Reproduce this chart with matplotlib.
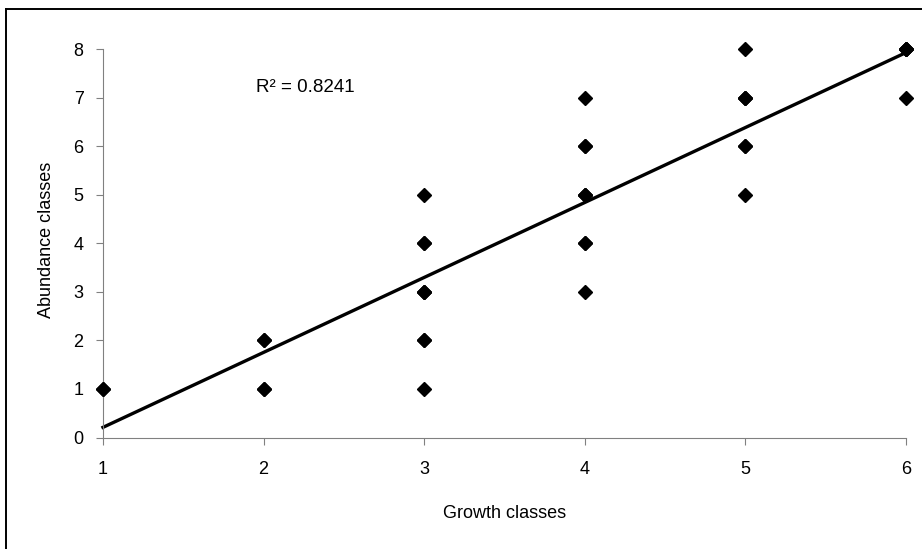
import numpy as np
import matplotlib
matplotlib.use("Agg")
import matplotlib.pyplot as plt
from matplotlib.lines import Line2D

plt.rcParams['font.family'] = ['Liberation Sans', 'DejaVu Sans']

# growth class / abundance class observations (repeated points overlap)
growth = [1, 1,
          2, 2, 2, 2,
          3, 3, 3, 3, 3, 3, 3, 3, 3,
          4, 4, 4, 4, 4, 4, 4, 4, 4,
          5, 5, 5, 5, 5, 5, 5,
          6, 6, 6, 6, 6]
abundance = [1, 1,
             1, 1, 2, 2,
             1, 2, 2, 3, 3, 3, 4, 4, 5,
             3, 4, 4, 5, 5, 5, 6, 6, 7,
             5, 6, 6, 7, 7, 7, 8,
             7, 8, 8, 8, 8]
r2_label = "R² = 0.8241"

x = np.array(growth, dtype=float)
y = np.array(abundance, dtype=float)
slope, intercept = np.polyfit(x, y, 1)
xs = np.array([x.min(), x.max()])

fig = plt.figure(figsize=(9.22, 5.49), dpi=100)
ax = fig.add_axes([0.1117, 0.203, 0.871, 0.7077])

ax.plot(xs, slope * xs + intercept, color='black', lw=2.4, zorder=2, clip_on=False)
ax.plot(x, y, 'D', color='black', ms=6.8, zorder=3, clip_on=False)

ax.set_xlim(1, 6)
ax.set_ylim(0, 8)
ax.set_xticks(range(1, 7))
ax.set_yticks(range(0, 9))

for s in ['top', 'right']:
    ax.spines[s].set_visible(False)
for s in ['left', 'bottom']:
    ax.spines[s].set_color('#808080')
    ax.spines[s].set_linewidth(0.8)
ax.tick_params(direction='out', length=5, width=0.8, color='#808080', labelsize=13)
ax.tick_params(axis='x', pad=12)
ax.tick_params(axis='y', pad=9)

ax.text(1.95, 7.2, r2_label, fontsize=13.5, va='center', ha='left')
ax.set_xlabel("Growth classes", fontsize=13)
ax.set_ylabel("Abundance classes", fontsize=13)
ax.xaxis.set_label_coords(0.5, -0.173)
ax.yaxis.set_label_coords(-0.06, 0.508)

# chart frame (only top and left edges visible)
fig.add_artist(Line2D([0.007, 0.007], [0, 0.983], transform=fig.transFigure,
                      color='black', lw=1.4))
fig.add_artist(Line2D([0.007, 1], [0.983, 0.983], transform=fig.transFigure,
                      color='black', lw=1.4))

fig.savefig("out.png", dpi=100)
